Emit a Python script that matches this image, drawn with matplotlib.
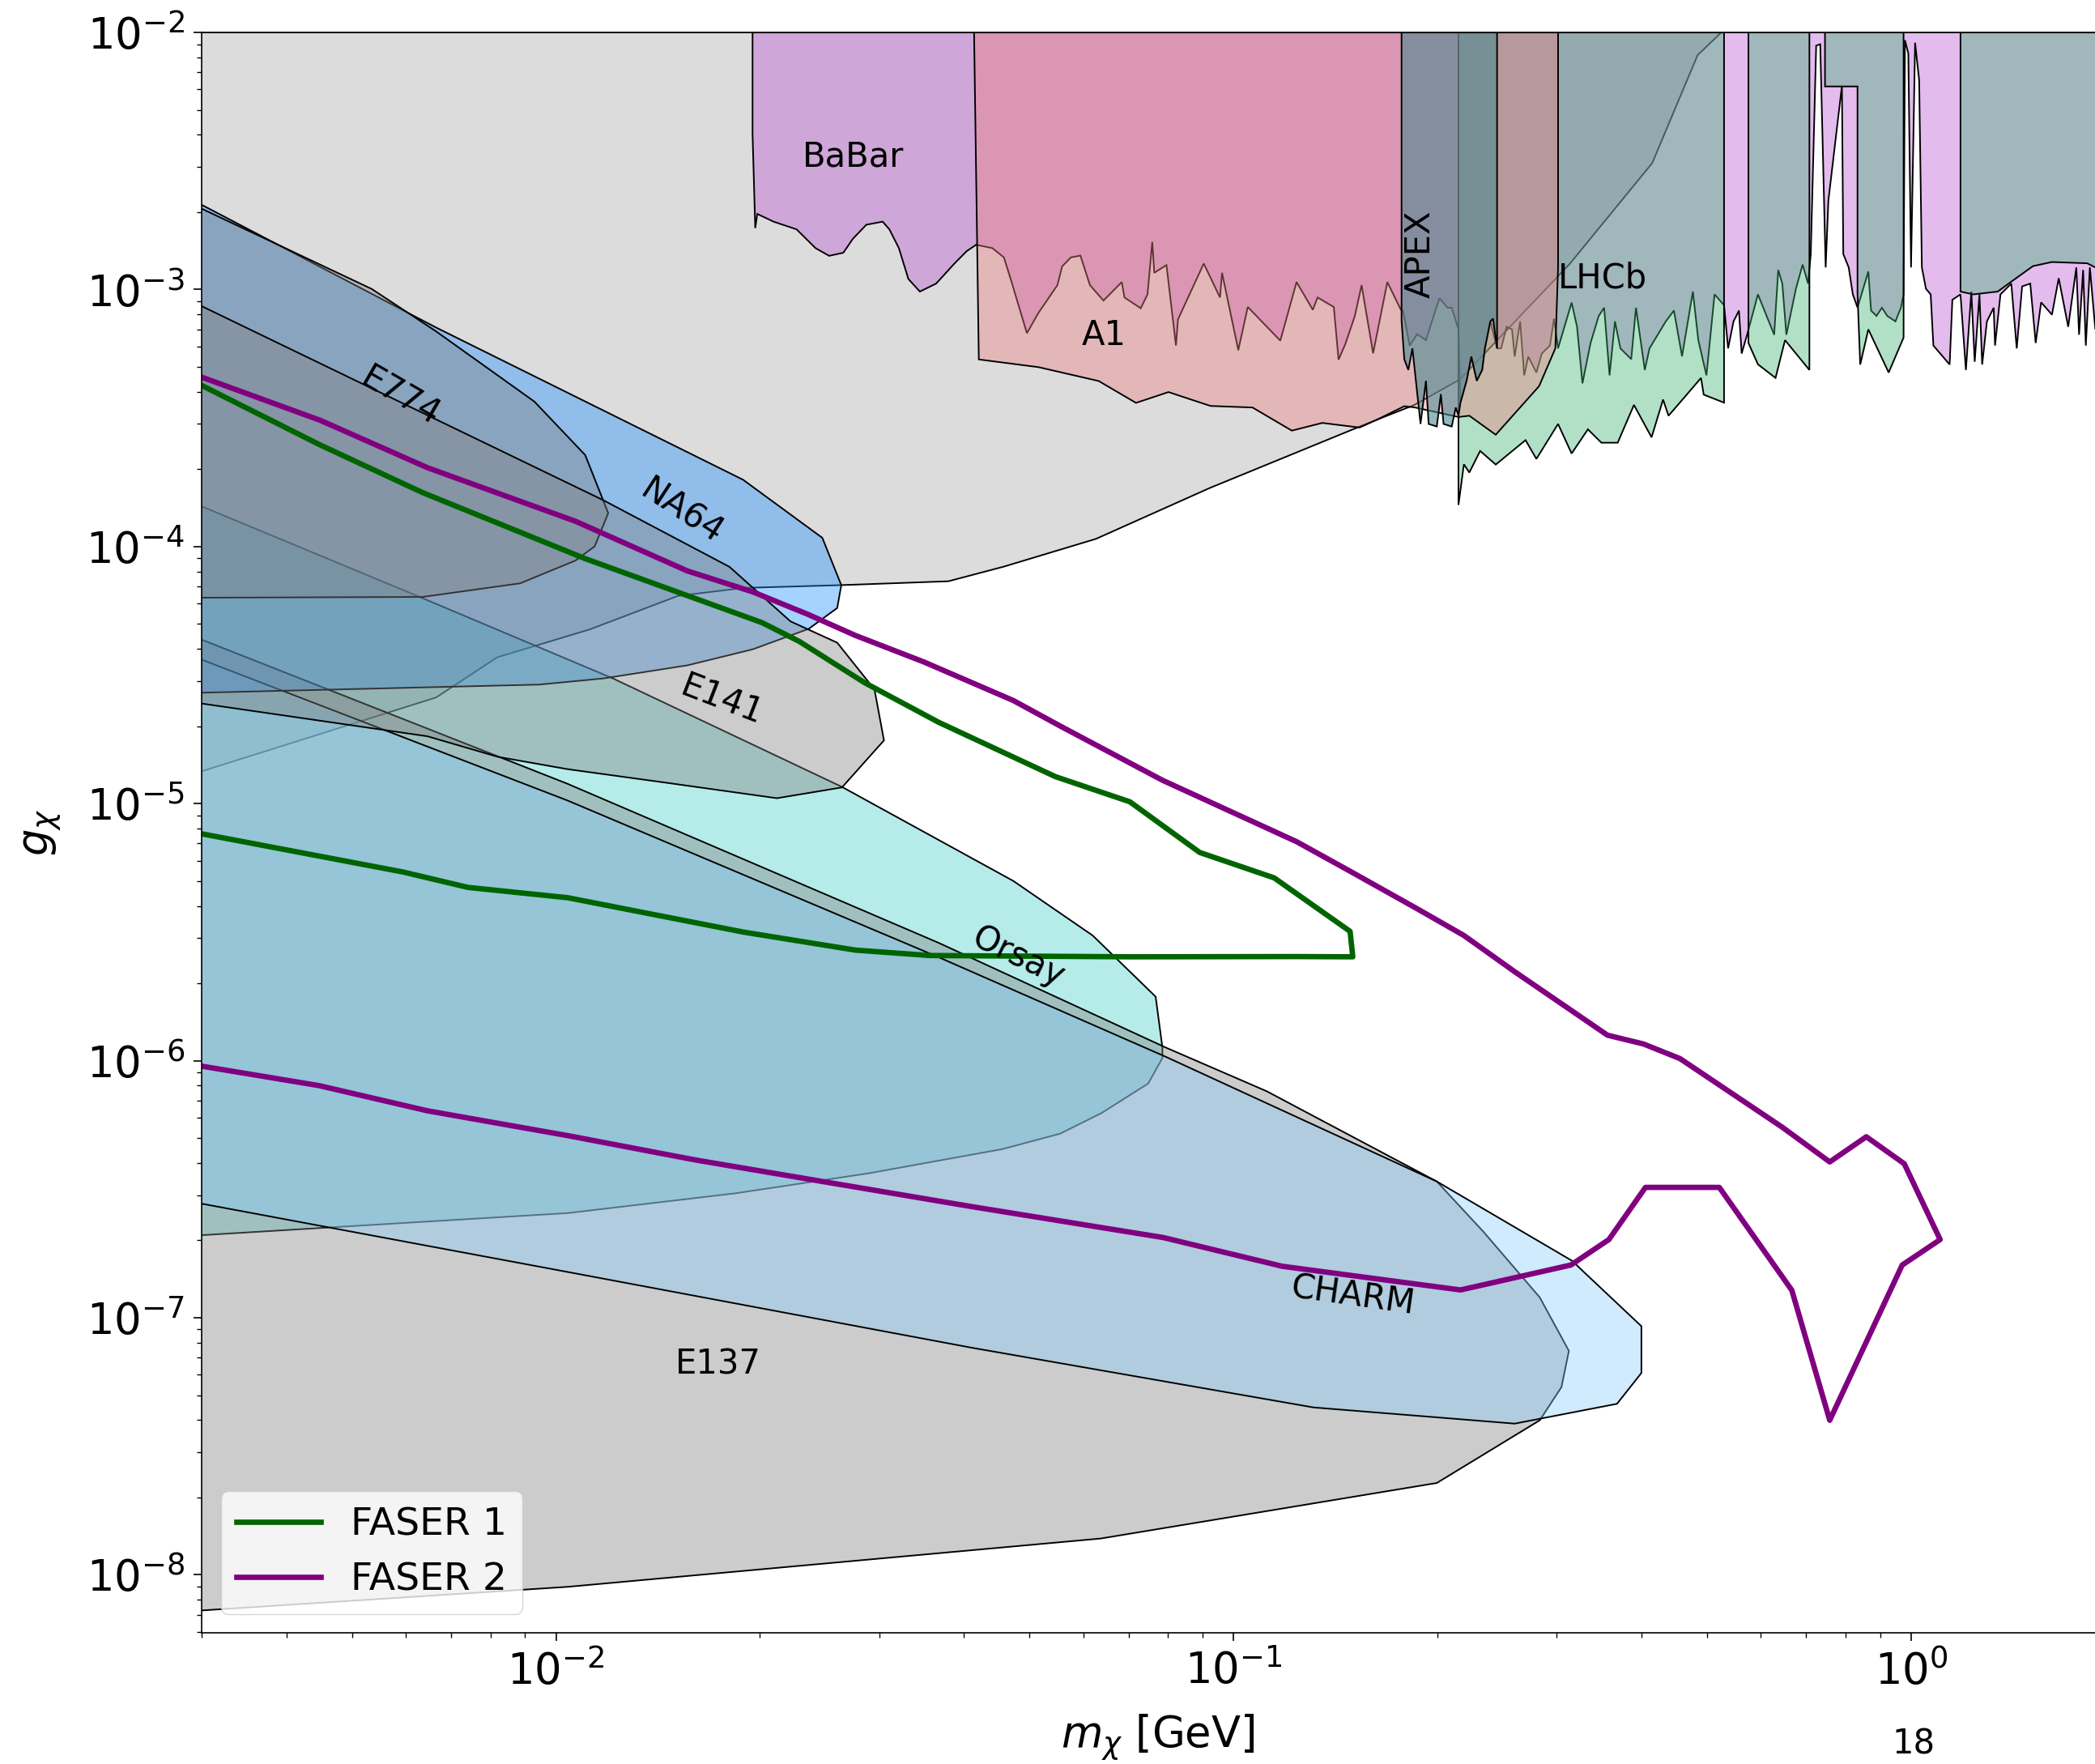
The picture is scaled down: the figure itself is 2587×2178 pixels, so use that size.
import numpy as np
import matplotlib
matplotlib.use("Agg")
import matplotlib.pyplot as plt
from matplotlib.colors import to_rgba
from matplotlib.ticker import NullFormatter

# all shapes are given as log10(m_X / GeV) and log10(g_X)

# big light grey region at the top
grey_lm = [-2.53, -0.280, -0.315, -0.382, -0.504, -0.666, -0.733, -0.808, -1.035, -1.203,
           -1.339, -1.421, -1.579, -1.724, -1.820, -1.950, -2.087, -2.177, -2.53]
grey_lg = [-2.0, -2.0, -2.088, -2.508, -2.901, -3.350, -3.449, -3.527, -3.772, -3.970,
           -4.078, -4.135, -4.150, -4.161, -4.192, -4.322, -4.431, -4.587, -4.880]

orsay_lm = [-2.53, -2.205, -1.916, -1.578, -1.325, -1.208, -1.115, -1.105, -1.105, -1.126,
            -1.195, -1.256, -1.341, -1.538, -1.735, -1.983, -2.53]
orsay_lg = [-3.836, -4.192, -4.513, -4.935, -5.301, -5.513, -5.751, -5.949, -5.990, -6.089,
            -6.204, -6.284, -6.344, -6.438, -6.516, -6.593, -6.680]

e137_lm = [-2.53, -1.983, -1.435, -1.100, -0.951, -0.700, -0.631, -0.548, -0.505, -0.516,
           -0.548, -0.700, -1.196, -1.983, -2.53]
e137_lg = [-4.355, -4.923, -5.542, -5.949, -6.119, -6.470, -6.666, -6.921, -7.129, -7.270,
           -7.399, -7.643, -7.859, -8.047, -8.140]

charm_lm = [-2.53, -1.983, -1.435, -1.100, -0.700, -0.500, -0.483, -0.398, -0.398, -0.434,
            -0.585, -0.882, -1.386, -1.983, -2.53]
charm_lg = [-4.433, -4.988, -5.598, -5.985, -6.470, -6.779, -6.822, -7.033, -7.215, -7.335,
            -7.412, -7.349, -7.117, -6.822, -6.553]

na64_lm = [-2.53, -2.177, -1.724, -1.607, -1.579, -1.585, -1.627, -1.710, -1.806, -1.930,
           -2.025, -2.53]
na64_lg = [-2.661, -3.148, -3.740, -3.966, -4.150, -4.239, -4.320, -4.400, -4.462, -4.513,
           -4.537, -4.569]

e774_lm = [-2.53, -2.272, -2.177, -2.032, -1.957, -1.923, -1.943, -1.971, -2.053, -2.197, -2.53]
e774_lg = [-2.677, -2.998, -3.163, -3.436, -3.644, -3.870, -3.999, -4.054, -4.143, -4.196, -4.199]

e141_lm = [-2.53, -1.930, -1.744, -1.654, -1.585, -1.530, -1.516, -1.578, -1.674, -1.834,
           -1.983, -2.086, -2.190, -2.53]
e141_lg = [-3.056, -3.820, -4.079, -4.291, -4.374, -4.556, -4.754, -4.937, -4.979, -4.920,
           -4.866, -4.818, -4.738, -4.608]

babar_lm = [-1.710, -1.710, -1.706, -1.703, -1.679, -1.645, -1.617, -1.597, -1.576, -1.562,
            -1.542, -1.518, -1.508, -1.494, -1.480, -1.463, -1.439, -1.412, -1.394, -1.380,
            -1.356, -1.339, -1.329, -1.305, -1.288, -1.260, -1.253, -1.240, -1.226, -1.212,
            -1.192, -1.165, -1.161, -1.137, -1.127, -1.120, -1.117, -1.099, -1.085, -1.082,
            -1.044, -1.020, -1.017, -0.993, -0.979, -0.931, -0.907, -0.883, -0.876, -0.852,
            -0.845, -0.835, -0.821, -0.811, -0.794, -0.773, -0.753,
            -0.750, -0.740, -0.729, -0.716, -0.702, -0.696, -0.684, -0.678, -0.668,
            -0.665, -0.656, -0.649, -0.641, -0.633, -0.629, -0.621, -0.611,
            -0.605, -0.597, -0.589, -0.585, -0.577, -0.571, -0.565, -0.553, -0.545, -0.533, -0.527,
            -0.521, -0.501, -0.493, -0.485, -0.473, -0.461, -0.453, -0.445, -0.437, -0.429,
            -0.413, -0.406, -0.393, -0.386, -0.362, -0.350, -0.338, -0.322, -0.314, -0.302,
            -0.290, -0.276,
            -0.270, -0.262, -0.254, -0.250, -0.242,
            -0.226, -0.202, -0.196, -0.190, -0.184, -0.170, -0.160, -0.152,
            -0.148, -0.140, -0.134, -0.126, -0.122, -0.102, -0.100, -0.092, -0.086, -0.079,
            -0.063, -0.059, -0.051, -0.043, -0.035, -0.023, -0.015, -0.011,
            -0.009, -0.004, 0.000, 0.006, 0.012, 0.016, 0.022, 0.029, 0.033, 0.057, 0.061, 0.073,
            0.081, 0.089, 0.094, 0.101, 0.105, 0.112, 0.122, 0.124, 0.132, 0.148, 0.156, 0.164,
            0.176, 0.184, 0.192, 0.208, 0.218, 0.232, 0.244, 0.248, 0.254, 0.258, 0.264, 0.272,
            0.30, 0.30]
babar_lg = [-2.0, -2.394, -2.761, -2.706, -2.736, -2.766, -2.839, -2.869, -2.857, -2.803,
            -2.748, -2.736, -2.766, -2.839, -2.959, -3.008, -2.977, -2.899, -2.851, -2.826,
            -2.839, -2.875, -2.959, -3.170, -3.091, -2.983, -2.910, -2.875, -2.868, -2.983,
            -3.043, -2.971, -3.031, -3.073, -3.019, -2.815, -2.935, -2.905, -3.218, -3.116,
            -2.899, -3.031, -2.935, -3.236, -3.068, -3.199, -2.971, -3.079, -3.031, -3.068,
            -3.273, -3.212, -3.103, -2.983, -3.248, -2.971, -3.079,
            -3.081, -3.218, -3.174, -3.197, -3.081, -3.034, -3.071, -3.071, -3.155,
            -3.439, -3.355, -3.261, -3.355, -3.313, -3.229, -3.124, -3.229,
            -3.229, -3.145, -3.155, -3.261, -3.124, -3.334, -3.261, -3.323, -3.249, -3.218, -3.113,
            -3.229, -3.051, -3.145, -3.365, -3.208, -3.103, -3.071, -3.334, -3.124, -3.229,
            -3.271, -3.071, -3.313, -3.229, -3.124, -3.082, -3.260, -3.008, -3.197, -3.334,
            -3.019, -3.061,
            -3.229, -3.124, -3.082, -3.249, -3.176,
            -3.019, -3.176, -2.924, -2.977, -3.176, -2.998, -2.903, -2.977,
            -2.862, -2.051, -2.046, -2.914, -2.654, -2.207, -2.862, -2.914, -3.018, -3.070,
            -2.930, -3.082, -3.103, -3.071, -3.103, -3.124, -3.071, -3.019,
            -2.030, -2.082, -2.914, -2.040, -2.186, -2.914, -2.997, -3.019, -3.218, -3.292, -3.040, -3.019,
            -3.313, -3.008, -3.281, -3.019, -3.292, -3.124, -3.071, -3.218, -3.019, -2.977, -3.229, -2.988,
            -2.977, -3.208, -3.050, -3.098, -2.956, -3.145, -2.914, -3.176, -2.924, -3.218, -2.914, -3.155,
            -3.10, -2.0]

# LHCb comes in four vertical pieces
lhcb1_lm = [-0.668, -0.276, -0.276, -0.306, -0.310, -0.334, -0.358, -0.366, -0.383, -0.409,
            -0.433, -0.457, -0.477, -0.501, -0.521, -0.553, -0.569, -0.613, -0.636, -0.652,
            -0.660, -0.668]
lhcb1_lg = [-2.0, -2.0, -3.440, -3.409, -3.344, -3.418, -3.491, -3.428, -3.575, -3.449,
            -3.596, -3.596, -3.544, -3.638, -3.523, -3.659, -3.586, -3.681, -3.628, -3.712,
            -3.680, -3.838]
lhcb2_lm = [-0.240, -0.150, -0.150, -0.186, -0.200, -0.226, -0.240]
lhcb2_lg = [-2.0, -2.0, -3.313, -3.197, -3.344, -3.291, -3.208]
lhcb3_lm = [-0.127, -0.011, -0.011, -0.033, -0.063, -0.075, -0.079, -0.079, -0.127]
lhcb3_lg = [-2.0, -2.0, -3.187, -3.323, -3.155, -3.292, -3.017, -2.210, -2.210]
lhcb4_lm = [0.073, 0.30, 0.30, 0.272, 0.260, 0.208, 0.180, 0.144, 0.128, 0.092, 0.073]
lhcb4_lg = [-2.0, -2.0, -2.914, -2.914, -2.898, -2.893, -2.909, -2.977, -3.008, -3.019, -3.008]

a1_lm = [-1.383, -1.376, -1.288, -1.199, -1.144, -1.096, -1.034, -0.972, -0.914, -0.869,
         -0.814, -0.788, -0.748, -0.732, -0.668, -0.652, -0.613, -0.549, -0.525, -0.521, -0.521]
a1_lg = [-2.0, -3.272, -3.302, -3.356, -3.441, -3.399, -3.453, -3.459, -3.549, -3.519,
         -3.537, -3.506, -3.454, -3.459, -3.496, -3.491, -3.565, -3.376, -3.229, -2.914, -2.0]

apex_lm = [-0.752, -0.611, -0.611, -0.617, -0.621, -0.629, -0.633, -0.641, -0.649, -0.656,
           -0.665, -0.668, -0.672, -0.678, -0.690, -0.694, -0.700, -0.712, -0.716, -0.724,
           -0.736, -0.742, -0.748, -0.752]
apex_lg = [-2.0, -2.0, -3.229, -3.113, -3.124, -3.229, -3.313, -3.355, -3.261, -3.355,
           -3.439, -3.491, -3.459, -3.533, -3.523, -3.407, -3.533, -3.523, -3.355, -3.523,
           -3.229, -3.313, -3.271, -3.121]

# FASER sensitivity contours
faser1_lm = [-2.524, -2.348, -2.197, -1.957, -1.696, -1.641, -1.545, -1.435, -1.263, -1.153,
             -1.050, -0.940, -0.828, -0.824, -0.907, -1.153, -1.448, -1.558, -1.723, -1.983,
             -2.130, -2.226, -2.524]
faser1_lg = [-3.372, -3.605, -3.790, -4.047, -4.296, -4.369, -4.529, -4.684, -4.895, -4.993,
             -5.190, -5.289, -5.497, -5.596, -5.595, -5.596, -5.591, -5.570, -5.500, -5.366,
             -5.326, -5.266, -5.117]
faser2_lm = [-2.524, -2.348, -2.190, -1.971, -1.806, -1.710, -1.628, -1.558, -1.457, -1.325,
             -1.256, -1.105, -0.907, -0.828, -0.729, -0.660, -0.585, -0.448, -0.395, -0.341,
             -0.190, -0.120, -0.066, -0.010, 0.043, -0.013, -0.120, -0.176, -0.283, -0.392,
             -0.446, -0.502, -0.665, -0.928, -1.104, -1.386, -1.598, -1.795, -1.982, -2.190,
             -2.350, -2.524]
faser2_lg = [-3.340, -3.509, -3.693, -3.902, -4.095, -4.176, -4.264, -4.346, -4.449, -4.599,
             -4.698, -4.909, -5.148, -5.263, -5.409, -5.513, -5.654, -5.901, -5.935, -5.992,
             -6.259, -6.394, -6.296, -6.401, -6.696, -6.795, -7.399, -6.893, -6.493, -6.493,
             -6.696, -6.795, -6.892, -6.800, -6.688, -6.568, -6.474, -6.386, -6.292, -6.195,
             -6.097, -6.021]

# region labels: name, log10 m, log10 g, rotation
labels = [("BaBar", -1.562, -2.482, 0), ("A1", -1.191, -3.179, 0), ("APEX", -0.725, -2.862, 90),
          ("LHCb", -0.455, -2.955, 0), ("E774", -2.230, -3.418, -30), ("NA64", -1.814, -3.865, -33),
          ("E141", -1.755, -4.598, -21), ("Orsay", -1.317, -5.596, -26),
          ("CHARM", -0.824, -6.916, -8), ("E137", -1.761, -7.181, 0)]

fig = plt.figure(figsize=(25.87, 21.78), dpi=100)
ax = fig.add_axes([0.0963, 0.0742, 0.9129, 0.9074])
ax.set_xscale("log")
ax.set_yscale("log")


def region(lm, lg, color, alpha):
    ax.fill(10 ** np.array(lm), 10 ** np.array(lg), facecolor=to_rgba(color, alpha),
            edgecolor="black", linewidth=1.4)


region(grey_lm, grey_lg, "#dcdcdc", 1.0)
region(orsay_lm, orsay_lg, "mediumturquoise", 0.4)
region(e137_lm, e137_lg, "grey", 0.4)
region(charm_lm, charm_lg, "lightskyblue", 0.4)
region(na64_lm, na64_lg, "dodgerblue", 0.4)
region(e774_lm, e774_lg, "grey", 0.4)
region(e141_lm, e141_lg, "grey", 0.4)
region(babar_lm, babar_lg, "mediumorchid", 0.4)
for lm, lg in [(lhcb1_lm, lhcb1_lg), (lhcb2_lm, lhcb2_lg), (lhcb3_lm, lhcb3_lg), (lhcb4_lm, lhcb4_lg)]:
    region(lm, lg, "mediumseagreen", 0.4)
region(a1_lm, a1_lg, "lightcoral", 0.4)
region(apex_lm, apex_lg, "#4a8a92", 0.6)

ax.plot(10 ** np.array(faser1_lm), 10 ** np.array(faser1_lg), color="darkgreen", lw=4.8, label="FASER 1")
ax.plot(10 ** np.array(faser2_lm), 10 ** np.array(faser2_lg), color="purple", lw=4.8, label="FASER 2")

for name, lm, lg, rot in labels:
    ax.text(10 ** lm, 10 ** lg, name, fontsize=30, rotation=rot, ha="center", va="center")

ax.set_xlim(10 ** -2.523, 10 ** 0.30)
ax.set_ylim(10 ** -8.227, 1e-2)

ax.set_xlabel(r"$m_\chi$ [GeV]", fontsize=38)
ax.set_ylabel(r"$g_\chi$", fontsize=38)
ax.xaxis.set_label_coords(0.5, -0.050)
ax.yaxis.set_label_coords(-0.072, 0.5)

ax.xaxis.set_minor_formatter(NullFormatter())
ax.yaxis.set_minor_formatter(NullFormatter())
ax.tick_params(which="major", labelsize=38, length=7, width=1.2, pad=8)
ax.tick_params(which="minor", length=4, width=1.0)
for s in ax.spines.values():
    s.set_linewidth(1.2)

ax.legend(loc="lower left", fontsize=34, handlelength=2.2)

# page number left over from the paper, sits at the very bottom edge
fig.text(2363 / 2587, 3 / 2178, "18", fontsize=30, ha="center", va="bottom")

fig.savefig("out.png", dpi=100)
